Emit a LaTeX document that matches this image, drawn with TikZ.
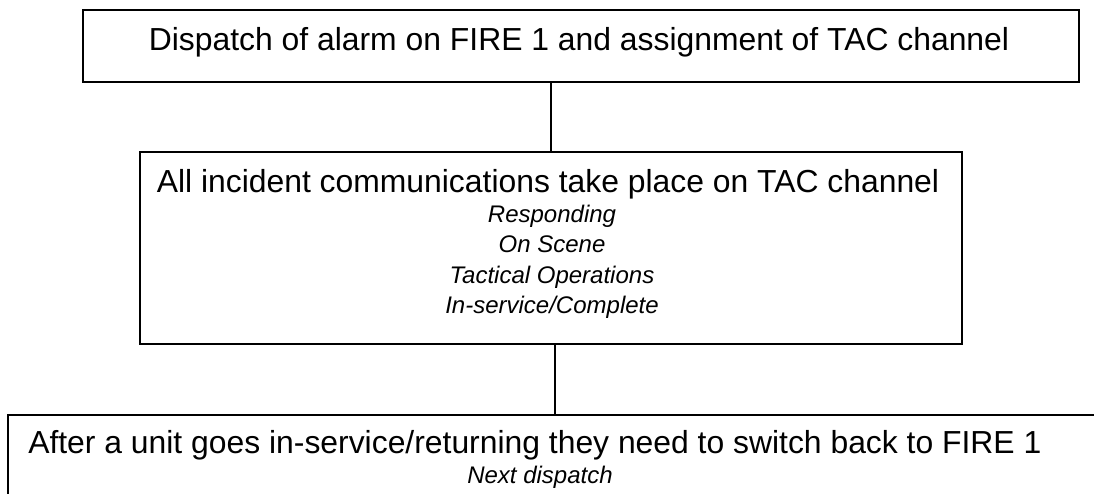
\documentclass[tikz,border=0pt]{standalone}
\usepackage{fontspec}
\setmainfont{Liberation Sans}
\usetikzlibrary{positioning}

\tikzset{
  box/.style={draw, line width=1.5pt, inner sep=0pt, anchor=north west},
  headtxt/.style={font=\fontsize{23.9}{28}\selectfont, inner sep=0pt, anchor=base},
  subtxt/.style={font=\fontsize{18}{21}\selectfont\itshape, inner sep=0pt, anchor=base},
  link/.style={line width=2.2pt},
}

\begin{document}
\begin{tikzpicture}[x=0.75pt,y=-0.75pt]
\useasboundingbox (0,0) rectangle (1094,493);
\clip (0,0) rectangle (1094,493);
% boxes
\node[box, minimum width=747pt, minimum height=54pt] (dispatch) at (82,9) {};
\node[box, minimum width=616.5pt, minimum height=144pt] (tac) at (139,151) {};
\node[box, minimum width=835pt, minimum height=94.5pt] (back) at (7,414) {};
% texts
\node[headtxt] (dispatchtxt) at (579,50) {Dispatch of alarm on FIRE 1 and assignment of TAC channel};
\node[headtxt] (tactxt) at (548,192) {All incident communications take place on TAC channel};
\node[subtxt] (resp) at (552,222) {Responding};
\node[subtxt] (scene) at (552,252.5) {On Scene};
\node[subtxt] (tactops) at (552,283) {Tactical Operations};
\node[subtxt] (inservice) at (552,313) {In-service/Complete};
\node[headtxt, anchor=base west] (backtxt) at (28,453) {After a unit goes in-service/returning they need to switch back to FIRE 1};
\node[subtxt] (nextdisp) at (540,483) {Next dispatch};
% connectors
\draw[link] (dispatch.south -| 551,0) -- (tac.north -| 551,0);
\draw[link] (tac.south -| 555,0) -- (back.north -| 555,0);
\end{tikzpicture}
\end{document}
